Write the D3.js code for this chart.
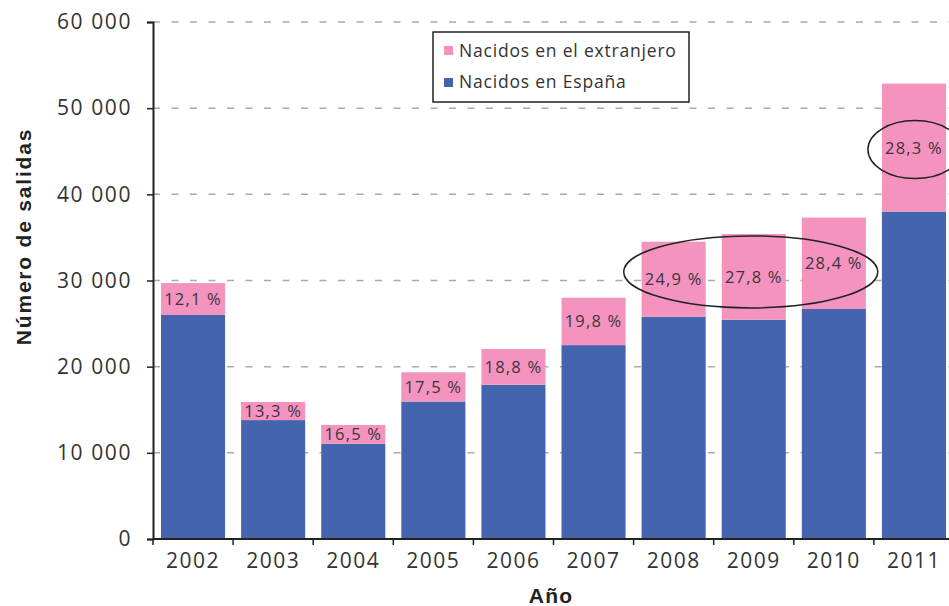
<!DOCTYPE html>
<html>
<head>
<meta charset="utf-8">
<script src="https://cdn.jsdelivr.net/npm/d3@7"></script>
<style>
    body { margin: 0; background: #fff; }
    svg { display: block; }
</style>
</head>
<body>
<div id="chart"></div>
<script>
// Data
const years = ["2002", "2003", "2004", "2005", "2006", "2007", "2008", "2009", "2010", "2011"];
const nacidosEspana = [26000, 13800, 11050, 15950, 17900, 22500, 25800, 25450, 26700, 38000];
const nacidosExtranjero = [3700, 2100, 2190, 3400, 4150, 5500, 8700, 9950, 10600, 14850];
const porcentajeExtranjero = [12.1, 13.3, 16.5, 17.5, 18.8, 19.8, 24.9, 27.8, 28.4, 28.3];
const yTicks = [0, 10000, 20000, 30000, 40000, 50000, 60000];
const seriesNames = ["Nacidos en el extranjero", "Nacidos en España"];

const colorEspana = "#4464ae";
const colorExtranjero = "#f393be";

const width = 949;
const height = 606;
const margin = { top: 22, right: -5, bottom: 67, left: 153 };

const svg = d3.select("#chart")
    .append("svg")
    .attr("width", width)
    .attr("height", height);

// Scales
const x = d3.scaleBand()
    .domain(years)
    .range([margin.left, width - margin.right])
    .paddingInner(0.2)
    .paddingOuter(0.1);

const y = d3.scaleLinear()
    .domain([0, 60000])
    .range([height - margin.bottom, margin.top]);

const fmt = v => d3.format(",")(v).replace(/,/g, " ");

// Gridlines (dashed)
svg.append("g")
    .selectAll("line")
    .data(yTicks.filter(d => d > 0))
    .enter()
    .append("line")
    .attr("x1", margin.left)
    .attr("x2", width)
    .attr("y1", d => y(d))
    .attr("y2", d => y(d))
    .attr("stroke", "#aaa")
    .attr("stroke-width", 1.5)
    .attr("stroke-dasharray", "7,11.5");

// Stacked bars
const stackData = years.map((yr, i) => ({
    year: yr,
    espana: nacidosEspana[i],
    extranjero: nacidosExtranjero[i],
    pct: porcentajeExtranjero[i]
}));

svg.append("g")
    .selectAll("rect")
    .data(stackData)
    .enter()
    .append("rect")
    .attr("x", d => x(d.year))
    .attr("y", d => y(d.espana))
    .attr("width", x.bandwidth())
    .attr("height", d => y(0) - y(d.espana))
    .attr("fill", colorEspana);

svg.append("g")
    .selectAll("rect")
    .data(stackData)
    .enter()
    .append("rect")
    .attr("x", d => x(d.year))
    .attr("y", d => y(d.espana + d.extranjero))
    .attr("width", x.bandwidth())
    .attr("height", d => y(d.espana) - y(d.espana + d.extranjero))
    .attr("fill", colorExtranjero);

// Percentage labels in the pink part
svg.append("g")
    .selectAll("text")
    .data(stackData)
    .enter()
    .append("text")
    .attr("x", d => x(d.year) + x.bandwidth() / 2)
    .attr("y", d => y(d.espana + d.extranjero / 2))
    .attr("dy", "0.36em")
    .attr("text-anchor", "middle")
    .style("font-family", "'Open Sans', sans-serif")
    .style("font-size", "16.5px")
    .style("letter-spacing", "1.2px")
    .attr("fill", "#3d3340")
    .text(d => String(d.pct).replace(".", ",") + " %");

// Y axis
const yAxis = svg.append("g")
    .attr("transform", `translate(${margin.left},0)`)
    .call(d3.axisLeft(y).tickValues(yTicks).tickSize(6).tickPadding(15).tickFormat(fmt));
yAxis.select(".domain").attr("stroke", "#222").attr("stroke-width", 2);
yAxis.selectAll(".tick line").attr("stroke", "#222").attr("stroke-width", 1.5);
yAxis.selectAll("text")
    .style("font-family", "'Open Sans', sans-serif")
    .style("font-size", "21px")
    .style("letter-spacing", "1.6px")
    .attr("fill", "#333");

// X axis: labels at band centres, ticks at band boundaries
const xAxis = svg.append("g")
    .attr("transform", `translate(0,${y(0)})`)
    .call(d3.axisBottom(x).tickSize(0).tickPadding(14));
xAxis.select(".domain").remove();
xAxis.append("line")
    .attr("x1", margin.left)
    .attr("x2", width)
    .attr("stroke", "#222")
    .attr("stroke-width", 2);
xAxis.selectAll("text")
    .style("font-family", "'Open Sans', sans-serif")
    .style("font-size", "21px")
    .style("letter-spacing", "1.5px")
    .attr("fill", "#333");
const gap = x.step() * x.paddingInner() / 2;
xAxis.selectAll(".bound")
    .data(years)
    .enter()
    .append("line")
    .attr("class", "bound")
    .attr("x1", d => x(d) - gap)
    .attr("x2", d => x(d) - gap)
    .attr("y2", 6)
    .attr("stroke", "#222")
    .attr("stroke-width", 1.5);

// Axis titles
svg.append("text")
    .attr("transform", `translate(31, ${(y(0) + y(60000)) / 2 - 44}) rotate(-90)`)
    .attr("text-anchor", "middle")
    .style("font-family", "'Liberation Sans', Arial, sans-serif")
    .style("font-weight", "bold")
    .style("font-size", "21px")
    .style("letter-spacing", "1.8px")
    .attr("fill", "#222")
    .text("Número de salidas");

svg.append("text")
    .attr("x", (margin.left + width) / 2)
    .attr("y", 603)
    .attr("text-anchor", "middle")
    .style("font-family", "'Liberation Sans', Arial, sans-serif")
    .style("font-weight", "bold")
    .style("font-size", "21px")
    .style("letter-spacing", "1.2px")
    .attr("fill", "#222")
    .text("Año");

// Ellipses highlighting the percentages
svg.append("ellipse")
    .attr("cx", (x("2008") + x("2010") + x.bandwidth()) / 2 - 3)
    .attr("cy", y(31000))
    .attr("rx", 127)
    .attr("ry", 36)
    .attr("fill", "none")
    .attr("stroke", "#222")
    .attr("stroke-width", 1.5);

svg.append("ellipse")
    .attr("cx", x("2011") + x.bandwidth() / 2 + 1)
    .attr("cy", y(45200))
    .attr("rx", 47)
    .attr("ry", 29)
    .attr("fill", "none")
    .attr("stroke", "#222")
    .attr("stroke-width", 1.5);

// Legend
const legend = svg.append("g").attr("class", "legend");
legend.append("rect")
    .attr("x", 433)
    .attr("y", 32)
    .attr("width", 256)
    .attr("height", 70)
    .attr("fill", "#fff")
    .attr("stroke", "#222")
    .attr("stroke-width", 1.5);

const legendColors = [colorExtranjero, colorEspana];
legend.selectAll(".sw")
    .data(seriesNames)
    .enter()
    .append("rect")
    .attr("class", "sw")
    .attr("x", 444)
    .attr("y", (d, i) => 46 + i * 32)
    .attr("width", 9)
    .attr("height", 9)
    .attr("fill", (d, i) => legendColors[i]);
legend.selectAll("text")
    .data(seriesNames)
    .enter()
    .append("text")
    .attr("x", 459)
    .attr("y", (d, i) => 56.5 + i * 31.5)
    .style("font-family", "'Open Sans', sans-serif")
    .style("font-size", "17.5px")
    .style("letter-spacing", "0.8px")
    .attr("fill", "#333")
    .text(d => d);
</script>
</body>
</html>
